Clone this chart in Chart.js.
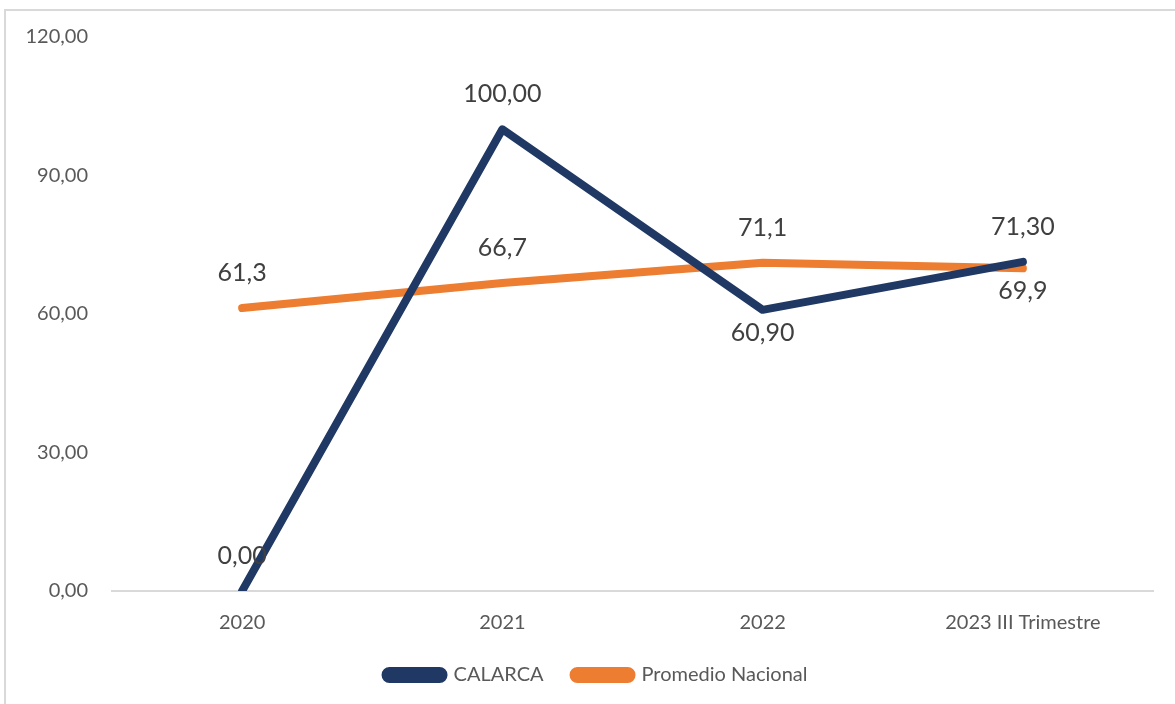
<!DOCTYPE html>
<html>
<head>
<meta charset="utf-8">
<script src="https://cdn.jsdelivr.net/npm/chart.js@4/dist/chart.umd.min.js"></script>
<style>
  html, body { margin: 0; padding: 0; background: #ffffff; }
  #wrap { position: absolute; left: 0; top: 0; width: 1175px; height: 704px; }
</style>
</head>
<body>
<div id="wrap"><canvas id="c" width="1175" height="704"></canvas></div>
<script>
const categories = ["2020", "2021", "2022", "2023 III Trimestre"];
const calarcaValues = [0.00, 100.00, 60.90, 71.30];
const calarcaLabels = ["0,00", "100,00", "60,90", "71,30"];
const calarcaLabelPos = ["above", "above", "below", "above"];
const nacionalValues = [61.3, 66.7, 71.1, 69.9];
const nacionalLabels = ["61,3", "66,7", "71,1", "69,9"];
const nacionalLabelPos = ["above", "above", "above", "below"];
const yTickValues = [0, 30, 60, 90, 120];
const yTickLabels = ["0,00", "30,00", "60,00", "90,00", "120,00"];

const NAVY = "#203864";
const ORANGE = "#ED7D31";
const FONT = "Lato, 'Open Sans', sans-serif";

const borderPlugin = {
  id: "frame",
  beforeDraw(chart) {
    const ctx = chart.ctx;
    ctx.save();
    ctx.fillStyle = "#ffffff";
    ctx.fillRect(0, 0, chart.width, chart.height);
    ctx.strokeStyle = "#d9d9d9";
    ctx.lineWidth = 2;
    ctx.beginPath();
    ctx.moveTo(5, 720);
    ctx.lineTo(5, 10);
    ctx.lineTo(1180, 10);
    ctx.stroke();
    ctx.restore();
  }
};

const legendShift = {
  id: "legendShift",
  afterLayout(chart) {
    if (chart.legend) {
      chart.legend.left += 20;
      chart.legend.right += 20;
    }
  }
};

const labelPlugin = {
  id: "pointLabels",
  afterDatasetsDraw(chart) {
    const ctx = chart.ctx;
    const sets = [
      { labels: calarcaLabels, pos: calarcaLabelPos },
      { labels: nacionalLabels, pos: nacionalLabelPos }
    ];
    ctx.save();
    ctx.font = "25px " + FONT;
    ctx.fillStyle = "#404040";
    ctx.textAlign = "center";
    ctx.textBaseline = "middle";
    sets.forEach((s, di) => {
      const meta = chart.getDatasetMeta(di);
      meta.data.forEach((pt, i) => {
        const dy = s.pos[i] === "above" ? -35 : 23;
        ctx.fillText(s.labels[i], pt.x, pt.y + dy);
      });
    });
    ctx.restore();
  }
};

new Chart(document.getElementById("c"), {
  type: "line",
  data: {
    labels: categories,
    datasets: [
      {
        label: "CALARCA",
        data: calarcaValues,
        borderColor: NAVY,
        backgroundColor: NAVY,
        borderWidth: 8,
        borderCapStyle: "round",
        borderJoinStyle: "round",
        pointRadius: 0,
        tension: 0
      },
      {
        label: "Promedio Nacional",
        data: nacionalValues,
        borderColor: ORANGE,
        backgroundColor: ORANGE,
        borderWidth: 8,
        borderCapStyle: "round",
        borderJoinStyle: "round",
        pointRadius: 0,
        tension: 0
      }
    ]
  },
  options: {
    responsive: false,
    animation: false,
    devicePixelRatio: 1,
    layout: { padding: { left: 0, right: 22, top: 37, bottom: 9 } },
    scales: {
      x: {
        offset: true,
        grid: { display: false, drawTicks: false },
        border: { display: true, color: "#d9d9d9", width: 2 },
        ticks: { color: "#595959", font: { family: FONT, size: 20 }, padding: 20, maxRotation: 0 },
        afterFit(scale) { scale.height = 44; }
      },
      y: {
        min: 0,
        max: 120,
        afterBuildTicks(scale) { scale.ticks = yTickValues.map(v => ({ value: v })); },
        grid: { display: false, drawTicks: false },
        border: { display: false },
        ticks: {
          color: "#595959",
          font: { family: FONT, size: 20 },
          padding: 24,
          callback(value) { const i = yTickValues.indexOf(value); return i >= 0 ? yTickLabels[i] : ""; }
        },
        afterFit(scale) { scale.width = 112; }
      }
    },
    plugins: {
      legend: {
        position: "bottom",
        labels: {
          color: "#595959",
          font: { family: FONT, size: 20 },
          boxWidth: 58,
          boxHeight: 8,
          useBorderRadius: true,
          borderRadius: 4,
          padding: 30
        }
      },
      tooltip: { enabled: false }
    }
  },
  plugins: [borderPlugin, legendShift, labelPlugin]
});
</script>
</body>
</html>
